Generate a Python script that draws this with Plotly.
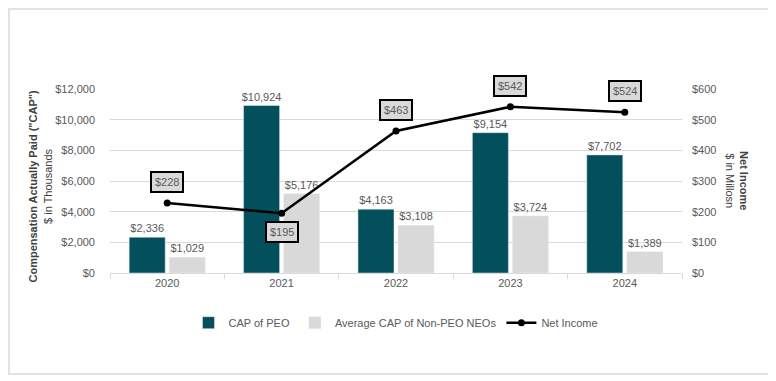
import plotly.graph_objects as go

years = ["2020", "2021", "2022", "2023", "2024"]
cap_peo = [2336, 10924, 4163, 9154, 7702]
cap_neo = [1029, 5176, 3108, 3724, 1389]
net_income = [228, 195, 463, 542, 524]
label_side = ["above", "below", "above", "above", "above"]
left_ticks = [0, 2000, 4000, 6000, 8000, 10000, 12000]
right_ticks = [0, 100, 200, 300, 400, 500, 600]

FONT = "Liberation Sans Narrow, Arial Narrow, Liberation Sans, Arial, sans-serif"
GRAY = "#595959"
TEAL = "#03505C"
LIGHT = "#D9D9D9"

fig = go.Figure()
fig.add_trace(go.Bar(
    x=years, y=cap_peo, name="CAP of PEO", marker_color=TEAL,
    text=[f"${v:,}" for v in cap_peo], textposition="outside", constraintext="none",
    textfont=dict(family=FONT, size=11, color=GRAY), cliponaxis=False,
))
fig.add_trace(go.Bar(
    x=years, y=cap_neo, name="Average CAP of Non-PEO NEOs", marker_color=LIGHT,
    text=[f"${v:,}" for v in cap_neo], textposition="outside", constraintext="none",
    textfont=dict(family=FONT, size=11, color=GRAY), cliponaxis=False,
))
fig.add_trace(go.Scatter(
    x=years, y=net_income, name="Net Income", yaxis="y2", mode="lines+markers",
    line=dict(color="black", width=2.5), marker=dict(color="black", size=7),
    cliponaxis=False,
))

for i, (v, side) in enumerate(zip(net_income, label_side)):
    fig.add_annotation(
        x=i, y=v, xref="x", yref="y2", text=f"${v}", showarrow=False,
        xanchor="center", yanchor="middle",
        yshift=21 if side == "above" else -19,
        bgcolor=LIGHT, bordercolor="black", borderwidth=2, borderpad=3,
        font=dict(family=FONT, size=11, color=GRAY),
    )

fig.add_annotation(
    xref="paper", yref="paper", x=(40 - 110) / 572, y=0.47, textangle=-90,
    xanchor="center", yanchor="middle", showarrow=False,
    text="<b>Compensation Actually Paid (\"CAP\")</b><br>$ in Thousands",
    font=dict(family=FONT, size=11, color="#404040"),
)
fig.add_annotation(
    xref="paper", yref="paper", x=(737 - 110) / 572, y=0.505, textangle=90,
    xanchor="center", yanchor="middle", showarrow=False,
    text="<b>Net Income</b><br>$ in Millosn",
    font=dict(family=FONT, size=11, color="#404040"),
)

# outer frame (page pixels: plot area spans x 110-682, y 89-273)
fig.add_shape(
    type="rect", xref="paper", yref="paper",
    x0=(9 - 110) / 572, x1=(772 - 110) / 572,
    y0=(273 - 374) / 184, y1=(273 - 9) / 184,
    line=dict(color="#E3E3E3", width=2), layer="below",
)

# page body has an 8px default margin, so the figure is offset by 8px
fig.update_layout(
    width=768, height=373,
    margin=dict(l=102, r=94, t=81, b=108, autoexpand=False),
    paper_bgcolor="white", plot_bgcolor="white",
    barmode="group", bargap=0.3, bargroupgap=0.1,
    font=dict(family=FONT, size=11, color=GRAY),
    showlegend=True,
    legend=dict(orientation="h", x=0.5, xanchor="center", y=-0.27, yanchor="middle",
                font=dict(family=FONT, size=11, color=GRAY), traceorder="normal"),
    xaxis=dict(
        type="category", range=[-0.5, len(years) - 0.5], autorange=False,
        automargin=False,
        showgrid=False, showline=True, linecolor=LIGHT,
        ticks="outside", tickson="boundaries", ticklen=5, tickcolor=LIGHT,
        tickfont=dict(family=FONT, size=11, color=GRAY),
    ),
    yaxis=dict(
        range=[0, 12000], tickvals=left_ticks, automargin=False,
        ticktext=[f"${v:,}" for v in left_ticks],
        showgrid=True, gridcolor=LIGHT, gridwidth=1, zeroline=False,
        tickfont=dict(family=FONT, size=11, color=GRAY),
        ticks="", ticklabelstandoff=14,
    ),
    yaxis2=dict(
        range=[0, 600], tickvals=right_ticks, automargin=False,
        ticktext=[f"${v}" for v in right_ticks],
        overlaying="y", side="right", showgrid=False, zeroline=False,
        tickfont=dict(family=FONT, size=11, color=GRAY),
        ticks="", ticklabelstandoff=9,
    ),
)

fig.write_html("out.html")
